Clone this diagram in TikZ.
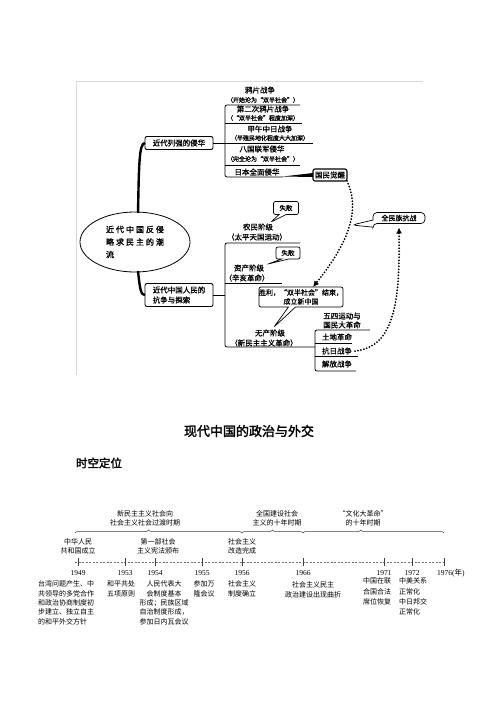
\documentclass[tikz,border=0pt]{standalone}
\usepackage{fontspec}
\setmainfont{Liberation Serif}
\newfontfamily\cjk{Noto Sans CJK SC}
\newfontfamily\cjkm{Noto Sans CJK SC}[FakeBold=1]
\newfontfamily\cjkb{Noto Sans CJK SC}[FakeBold=2]
\newfontfamily\cjkw{Noto Sans CJK SC}[LetterSpace=25,FakeBold=1.5]
\usetikzlibrary{shapes.geometric,shapes.callouts,decorations.pathreplacing,arrows.meta}
\begin{document}
\begin{tikzpicture}[x=1pt,y=-1pt,
  every node/.style={inner sep=0pt, outer sep=0pt},
  mm/.style={font=\cjkm\fontsize{7.5}{9}\selectfont},
  mms/.style={font=\cjkm\fontsize{6}{7}\selectfont},
  mmbox/.style={draw, rounded corners=2pt, line width=0.9pt, font=\cjkm\fontsize{7.5}{10}\selectfont, align=left},
  brk/.style={line width=0.8pt, rounded corners=2pt},
  uline/.style={line width=0.7pt},
  dotline/.style={line width=2pt, dash pattern=on 0pt off 3pt, line cap=round},
  balloon/.style={rectangle callout, draw, line width=0.7pt, rounded corners=2pt, font=\cjkm\fontsize{6.5}{8.5}\selectfont, align=center},
  tl/.style={font=\cjk\fontsize{7}{9.3}\selectfont, align=center},
  yr/.style={font=\fontsize{7.5}{9}\selectfont},
  tbrace/.style={decorate, decoration={brace, amplitude=3pt, aspect=#1}, line width=0.5pt, black!75}
]
\useasboundingbox (0,0) rectangle (500,707);
\fill[white] (0,0) rectangle (500,707);

% ---------- mind map frame ----------
\draw[black!15, line width=0.6pt] (76,375) -- (76,81) -- (423,81);

% central ellipse
\node[draw, ellipse, line width=0.8pt, minimum width=110, minimum height=60,
      font=\cjkw\fontsize{8}{12.5}\selectfont, align=left] (ell) at (135,242)
      {近代中国反侵\\略求民主的潮\\流};

% main boxes
\node[mmbox, minimum width=68, minimum height=13, align=center] (b1) at (179,143) {近代列强的侵华};
\node[mmbox, minimum width=68, minimum height=23] (b2) at (179,295) {近代中国人民的\\抗争与探索};

\draw[line width=2.4pt] (138,213) .. controls (139,165) and (139,143) .. (b1.west);
\draw[line width=2.4pt] (138,271) .. controls (140,290) and (141,295) .. (b2.west);

% upper branch
\draw[uline] (b1.east) -- (225,143);
\draw[brk] (300,105) -- (225,105) -- (225,177) -- (283,177);
\draw[uline] (225,123) -- (302,123);
\draw[uline] (225,143) -- (313,143);
\draw[uline] (225,165) -- (300,165);

\node[mm]  (y1)  at (260,90)  {鸦片战争};
\node[mms] (y1s) at (263,100) {（开始沦为“双半社会”）};
\node[mm]  (y2)  at (263,109) {第二次鸦片战争};
\node[mms] (y2s) at (263,118) {（“双半社会”程度加深）};
\node[mm]  (y3)  at (270,129) {甲午中日战争};
\node[mms] (y3s) at (270,138) {（半殖民地化程度大大加深）};
\node[mm]  (y4)  at (262,149) {八国联军侵华};
\node[mms] (y4s) at (263,159) {（完全沦为“双半社会”）};
\node[mm]  (y5)  at (257,172) {日本全面侵华};

\node[mmbox, minimum width=34, minimum height=12, line width=1.1pt] (jx) at (330,175) {国民觉醒};
\fill (283,176.5) -- ([yshift=2pt]jx.west) -- ([yshift=-2pt]jx.west) -- cycle;

\node[balloon, font=\cjkm\fontsize{7}{8}\selectfont, rounded corners=4pt, minimum width=52, minimum height=11,
      callout absolute pointer={(352,225)}] (qm) at (399,218) {全民族抗战};

% lower branch
\draw[uline] (b2.east) -- (225,295);
\draw[brk] (300,243) -- (225,243) -- (225,347) -- (315,347);
\draw[uline] (225,283) -- (282,283);

\node[mm] (nm)  at (258,227) {农民阶级};
\node[mm] (nms) at (257,237) {（太平天国运动）};
\node[mm] (zc)  at (249,268) {资产阶级};
\node[mm] (zcs) at (247,278) {（辛亥革命）};
\node[mm] (wc)  at (270,333) {无产阶级};
\node[mm] (wcs) at (264,343) {（新民主主义革命）};

\node[balloon, minimum width=25, minimum height=13, callout absolute pointer={(271,222)}] (f1) at (286,208) {失败};
\node[balloon, minimum width=24, minimum height=12, callout absolute pointer={(268,264)}] (f2) at (288,253) {失败};
\node[balloon, font=\cjkm\fontsize{7}{9}\selectfont, minimum width=78, minimum height=20,
      callout absolute pointer={(274,327)}] (vic) at (301,297) {胜利，“双半社会”结束，\\成立新中国};

% sub bracket
\draw[brk] (370,330) -- (315,330) -- (315,371) -- (356,371);
\draw[uline] (315,343) -- (352,343);
\draw[uline] (315,356) -- (358,356);
\node[mm, align=center] (ws) at (342,320.5) {五四运动与\\国民大革命};
\node[mm] (td) at (337,337) {土地革命};
\node[mm] (kr) at (337,351) {抗日战争};
\node[mm] (jf) at (337,364) {解放战争};

% dotted arrows
\draw[dotline, -{Latex[length=6pt,width=6pt]}] (jx.south east) .. controls (358,205) and (355,235) .. ([xshift=12pt]vic.north);
\draw[dotline, -{Latex[length=6pt,width=6pt]}] ([xshift=3pt]kr.east) .. controls (395,347) and (400,300) .. ([yshift=-4pt]qm.south);

% ---------- title ----------
\node[font=\cjkb\fontsize{13}{15}\selectfont] (title) at (249,431) {现代中国的政治与外交};
\node[font=\cjkb\fontsize{11.5}{13}\selectfont, anchor=west] (sk) at (76,463) {时空定位};

% ---------- timeline ----------
\draw[black!55, dash pattern=on 2pt off 1.5pt, line width=0.5pt] (75,562) -- (444,562);
\foreach \x/\n in {78/1949,125/1953,155/1954,202/1955,242/1956,303/1966,384/1971,412/1972} {
  \draw[black!75, line width=0.5pt] (\x,558) -- (\x,566);
  \node[yr] (t\n) at (\x,573) {\n};
}
\draw[black!75, line width=0.5pt] (444,558) -- (444,566);
\node[yr, anchor=west] (t1976) at (437,573) {1976(\cjk 年\rmfamily)};

% braces
\draw[tbrace=0.44] (75,533) -- (242,533);
\draw[tbrace=0.5] (242,533) -- (303,533);
\draw[tbrace=0.41] (303,533) -- (444,533);
\node[tl] (p1) at (145,518) {新民主主义社会向\\社会主义社会过渡时期};
\node[tl] (p2) at (277,518) {全国建设社会\\主义的十年时期};
\node[tl] (p3) at (363,518) {“文化大革命”\\的十年时期};

% above labels
\node[tl] (a1949) at (78,546.5) {中华人民\\共和国成立};
\node[tl] (a1954) at (158,546.5) {第一部社会\\主义宪法颁布};
\node[tl] (a1956) at (242,546.5) {社会主义\\改造完成};

% below labels
\node[tl, align=left, anchor=north west] (d1949) at (38,581) {台湾问题产生、中\\共领导的多党合作\\和政治协商制度初\\步建立、独立自主\\的和平外交方针};
\node[tl, anchor=north] (d1953) at (121,581) {和平共处\\五项原则};
\node[tl, anchor=north] (d1954) at (164,581) {人民代表大\\会制度基本\\形成；民族区域\\自治制度形成，\\参加日内瓦会议};
\node[tl, anchor=north] (d1955) at (204,581) {参加万\\隆会议};
\node[tl, anchor=north] (d1956) at (242,581) {社会主义\\制度确立};
\node[tl, anchor=north] (d1966) at (313,582) {社会主义民主\\政治建设出现曲折};
\node[tl, anchor=north, font=\cjk\fontsize{7}{10.3}\selectfont] (d1971) at (377,578) {中国在联\\合国合法\\席位恢复};
\node[tl, align=left, anchor=north west, font=\cjk\fontsize{7}{10.3}\selectfont] (d1972) at (399,578) {中美关系\\正常化\\中日邦交\\正常化};
\end{tikzpicture}
\end{document}
